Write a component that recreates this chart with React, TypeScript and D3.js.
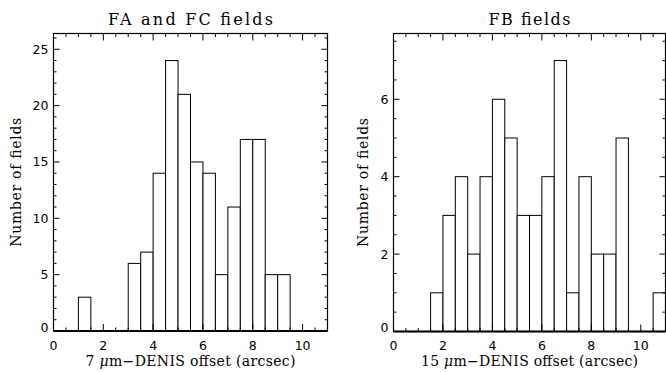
import React from "react";
import * as d3 from "d3";

const binWidth = 0.5;
const leftBinStarts = [1, 3, 3.5, 4, 4.5, 5, 5.5, 6, 6.5, 7, 7.5, 8, 8.5, 9];
const leftCounts = [3, 6, 7, 14, 24, 21, 15, 14, 5, 11, 17, 17, 5, 5];
const rightBinStarts = [1.5, 2, 2.5, 3, 3.5, 4, 4.5, 5, 5.5, 6, 6.5, 7, 7.5, 8, 8.5, 9, 10.5];
const rightCounts = [1, 3, 4, 2, 4, 6, 5, 3, 3, 4, 7, 1, 4, 2, 2, 5, 1];
const xTicks = [0, 2, 4, 6, 8, 10];
const leftYTicks = [0, 5, 10, 15, 20, 25];
const rightYTicks = [0, 2, 4, 6];

type PanelProps = {
  x0: number; x1: number; y0: number; y1: number;
  ymax: number; starts: number[]; counts: number[];
  yTicks: number[]; yMinorStep: number;
  title: string; titleLen: number; xPrefix: string; xLabelLen: number;
  yLabelX: number;
};

const Panel = (p: PanelProps) => {
  const x = d3.scaleLinear().domain([0, 11]).range([p.x0, p.x1]);
  const y = d3.scaleLinear().domain([0, p.ymax]).range([p.y0, p.y1]);
  const xMinor = d3.range(0, 11.01, 0.5).filter((v) => !xTicks.includes(v));
  const yMinor = d3.range(0, p.ymax, p.yMinorStep).filter((v) => !p.yTicks.some((t) => Math.abs(t - v) < 1e-6));
  const cx = (p.x0 + p.x1) / 2;
  const cy = (p.y0 + p.y1) / 2;
  const stroke = "#000";
  return (
    <g>
      {p.starts.map((s, i) =>
        p.counts[i] > 0 ? (
          <rect key={i} x={x(s)} y={y(p.counts[i])} width={x(s + binWidth) - x(s)} height={y(0) - y(p.counts[i])}
            fill="#fff" stroke={stroke} strokeWidth={1} />
        ) : null
      )}
      <rect x={p.x0} y={p.y1} width={p.x1 - p.x0} height={p.y0 - p.y1} fill="none" stroke={stroke} strokeWidth={1.2} />
      <line x1={p.x0} x2={p.x1} y1={p.y0} y2={p.y0} stroke={stroke} strokeWidth={2} />
      {xTicks.map((t) => (
        <g key={"xt" + t}>
          <line x1={x(t)} x2={x(t)} y1={p.y0} y2={p.y0 - 7} stroke={stroke} strokeWidth={1} />
          <line x1={x(t)} x2={x(t)} y1={p.y1} y2={p.y1 + 7} stroke={stroke} strokeWidth={1} />
          <text x={x(t)} y={349.5} textAnchor="middle" fontFamily="DejaVu Sans" fontSize={12.5} fill="#000">{t}</text>
        </g>
      ))}
      {xMinor.map((t) => (
        <g key={"xm" + t}>
          <line x1={x(t)} x2={x(t)} y1={p.y0} y2={p.y0 - 3.5} stroke={stroke} strokeWidth={1} />
          <line x1={x(t)} x2={x(t)} y1={p.y1} y2={p.y1 + 3.5} stroke={stroke} strokeWidth={1} />
        </g>
      ))}
      {p.yTicks.map((t) => (
        <g key={"yt" + t}>
          <line x1={p.x0} x2={p.x0 + 6} y1={y(t)} y2={y(t)} stroke={stroke} strokeWidth={1} />
          <line x1={p.x1} x2={p.x1 - 6} y1={y(t)} y2={y(t)} stroke={stroke} strokeWidth={1} />
          <text x={p.x0 - 5} y={y(t) - (t === 0 ? 4 : 0)} dy="0.36em" textAnchor="end" fontFamily="DejaVu Sans"
            fontSize={12.5} fill="#000">{t}</text>
        </g>
      ))}
      {yMinor.map((t) => (
        <g key={"ym" + t}>
          <line x1={p.x0} x2={p.x0 + 3} y1={y(t)} y2={y(t)} stroke={stroke} strokeWidth={1} />
          <line x1={p.x1} x2={p.x1 - 3} y1={y(t)} y2={y(t)} stroke={stroke} strokeWidth={1} />
        </g>
      ))}
      <text x={cx} y={25} textAnchor="middle" fontFamily="DejaVu Serif" fontSize={16} fill="#000"
        textLength={p.titleLen} lengthAdjust="spacing">{p.title}</text>
      <text x={cx} y={366} textAnchor="middle" fontFamily="DejaVu Serif" fontSize={14} fill="#000"
        textLength={p.xLabelLen} lengthAdjust="spacing">
        {p.xPrefix + " "}<tspan fontStyle="italic">μ</tspan>{"m−DENIS offset (arcsec)"}
      </text>
      <text transform={`translate(${p.yLabelX},${cy}) rotate(-90)`} textAnchor="middle" fontFamily="DejaVu Serif"
        fontSize={14} fill="#000" textLength={129} lengthAdjust="spacing">Number of fields</text>
    </g>
  );
};

export default function App() {
  return (
    <svg width={666} height={372} style={{ position: "absolute", left: 0, top: 0, background: "#fff" }}>
      <rect width={666} height={372} fill="#fff" />
      <Panel x0={53.5} x1={327.5} y0={331} y1={33.5} ymax={26.4} starts={leftBinStarts} counts={leftCounts}
        yTicks={leftYTicks} yMinorStep={1} title="FA and FC fields" titleLen={165} xPrefix="7" xLabelLen={210}
        yLabelX={21} />
      <Panel x0={393.5} x1={665.5} y0={331.5} y1={33.5} ymax={7.7} starts={rightBinStarts} counts={rightCounts}
        yTicks={rightYTicks} yMinorStep={0.5} title="FB fields" titleLen={82} xPrefix="15" xLabelLen={217}
        yLabelX={368} />
    </svg>
  );
}
